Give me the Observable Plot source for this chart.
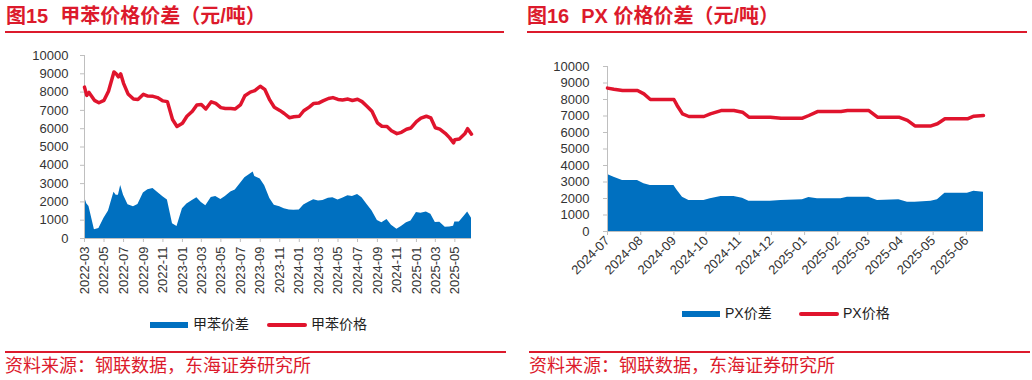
<!DOCTYPE html>
<html>
<head>
<meta charset="utf-8">
<script src="https://cdn.jsdelivr.net/npm/d3@7"></script>
<script src="https://cdn.jsdelivr.net/npm/@observablehq/plot@0.6"></script>
<style>
  body { margin: 0; background: #fff; }
  #root { position: relative; width: 1032px; height: 380px; overflow: hidden; background: #fff; }
  .title { position: absolute; top: 6px; font-family: "Liberation Sans", "Noto Sans CJK SC", sans-serif; font-weight: bold; font-size: 20px; line-height: 20px; color: #dc1a2c; white-space: pre; }
  .hr { position: absolute; height: 2px; background: #dc1a2c; }
  .src { position: absolute; top: 355px; font-family: "Noto Sans CJK SC", sans-serif; font-size: 18px; line-height: 18px; color: #dc1a2c; white-space: nowrap; }
  .chart { position: absolute; top: 40px; }
  .leg { position: absolute; font-family: "Liberation Sans", "Noto Sans CJK SC", sans-serif; font-size: 14px; line-height: 14px; color: #222; white-space: nowrap; }
  .sw { position: absolute; }
</style>
</head>
<body>
<div id="root">
  <div class="title" style="left:6px">图15<span style="margin-left:12px">甲苯价格价差（元/吨）</span></div>
  <div class="hr" style="left:5px; width:499px; top:31px"></div>
  <div class="title" style="left:527px">图16<span style="margin-left:12px">PX 价格价差（元/吨）</span></div>
  <div class="hr" style="left:527px; width:500px; top:31px"></div>

  <div id="c1" class="chart" style="left:0px"></div>
  <div id="c2" class="chart" style="left:520px"></div>

  <div id="legends"></div>

  <div class="hr" style="left:5px; width:501px; top:351px"></div>
  <div class="hr" style="left:529px; width:501px; top:351px"></div>
  <div class="src" style="left:5px">资料来源：钢联数据，东海证券研究所</div>
  <div class="src" style="left:529px">资料来源：钢联数据，东海证券研究所</div>
</div>
<script>
// ---------- Data: 图15 甲苯 ----------
const tolDates = [
  "2022-03-01","2022-03-08","2022-03-15","2022-04-01","2022-04-15","2022-05-01","2022-05-15",
  "2022-06-01","2022-06-08","2022-06-15","2022-06-22","2022-07-01","2022-07-15","2022-08-01","2022-08-15",
  "2022-09-01","2022-09-15","2022-10-01","2022-10-15","2022-11-01","2022-11-15","2022-12-01","2022-12-15",
  "2023-01-01","2023-01-15","2023-02-01","2023-02-15","2023-03-01","2023-03-15","2023-04-01","2023-04-15",
  "2023-05-01","2023-05-15","2023-06-01","2023-06-15","2023-07-01","2023-07-15","2023-08-01","2023-08-10",
  "2023-08-15","2023-09-01","2023-09-15","2023-10-01","2023-10-15","2023-11-01","2023-11-15","2023-12-01","2023-12-15",
  "2024-01-01","2024-01-15","2024-02-01","2024-02-15","2024-03-01","2024-03-15","2024-04-01","2024-04-15",
  "2024-05-01","2024-05-15","2024-06-01","2024-06-15","2024-07-01","2024-07-15","2024-08-01","2024-08-15",
  "2024-09-01","2024-09-15","2024-10-01","2024-10-15","2024-11-01","2024-11-15","2024-12-01","2024-12-15",
  "2025-01-01","2025-01-15","2025-02-01","2025-02-15","2025-03-01","2025-03-15","2025-04-01","2025-04-15",
  "2025-04-27","2025-05-01","2025-05-15","2025-06-01","2025-06-10","2025-06-22"
];
const tolPrice = [
  8270,7820,7980,7550,7420,7550,8050,
  9100,9000,8830,9000,8480,7900,7620,7600,
  7880,7780,7770,7700,7520,7480,6500,6120,
  6300,6680,6950,7300,7320,7080,7470,7380,
  7150,7100,7100,7080,7300,7800,8000,8050,
  8080,8320,8150,7560,7170,7000,6830,6600,6650,
  6680,6980,7180,7380,7400,7520,7650,7700,
  7600,7570,7620,7540,7610,7480,7200,6950,
  6320,6135,6125,5890,5730,5800,5970,6040,
  6390,6580,6680,6590,6050,5980,5750,5500,
  5220,5400,5440,5720,6000,5700
];
const tolSpread = [
  2270,1900,1750,480,550,1100,1500,
  2530,2370,2370,2900,2360,1840,1730,1860,
  2480,2670,2730,2530,2280,2100,800,650,
  1630,1880,2080,2230,1970,1790,2240,2290,
  2130,2290,2540,2650,3000,3320,3530,3640,
  3390,3250,2880,2190,1820,1740,1620,1560,1550,
  1560,1830,2000,2120,2050,2080,2200,2230,
  2110,2200,2330,2290,2400,2230,1830,1520,
  980,860,1040,720,510,650,860,960,
  1420,1380,1450,1330,870,890,620,630,
  670,900,900,1260,1450,1100
];
const tolTicks = ["2022-03","2022-05","2022-07","2022-09","2022-11","2023-01","2023-03","2023-05","2023-07","2023-09",
  "2023-11","2024-01","2024-03","2024-05","2024-07","2024-09","2024-11","2025-01","2025-03","2025-05"];

// ---------- Data: 图16 PX ----------
const pxDates = [
  "2024-07-01","2024-07-07","2024-07-15","2024-07-29","2024-08-04","2024-08-10","2024-09-01","2024-09-04",
  "2024-09-09","2024-09-15","2024-09-29","2024-10-05","2024-10-15","2024-10-27","2024-11-04","2024-11-10",
  "2024-11-30","2024-12-10","2024-12-30","2025-01-05","2025-01-13","2025-02-04","2025-02-10","2025-03-02",
  "2025-03-10","2025-03-30","2025-04-07","2025-04-14","2025-04-29","2025-05-05","2025-05-12","2025-06-02",
  "2025-06-08","2025-06-17"
];
const pxPrice = [
  8690,8620,8550,8550,8340,8000,8000,7640,
  7130,6970,6970,7130,7330,7330,7230,6930,
  6930,6870,6870,7030,7270,7270,7330,7330,
  6930,6930,6730,6400,6400,6530,6830,6830,
  6990,7030
];
const pxSpread = [
  3450,3290,3090,3090,2900,2790,2790,2500,
  2080,1880,1880,1980,2120,2120,2020,1840,
  1840,1880,1920,2060,1980,1980,2080,2080,
  1880,1920,1780,1780,1840,1920,2320,2320,
  2440,2380
];
const pxTicks = ["2024-07","2024-08","2024-09","2024-10","2024-11","2024-12","2025-01","2025-02","2025-03","2025-04","2025-05","2025-06"];

const yTicks = [0,1000,2000,3000,4000,5000,6000,7000,8000,9000,10000];
const tolNames = ["甲苯价差","甲苯价格"];
const pxNames = ["PX价差","PX价格"];

const BLUE = "#0070c0";
const RED = "#e0142d";
const GRID = "#bfbfbf";

const parseD = d3.utcParse("%Y-%m-%d");
const parseM = d3.utcParse("%Y-%m");
const fmtM = d3.utcFormat("%Y-%m");

function makeChart(o) {
  const data = o.dates.map((d, i) => ({date: parseD(d), price: o.price[i], spread: o.spread[i]}));
  return Plot.plot({
    width: o.width, height: o.height,
    marginLeft: o.ml, marginRight: o.mr, marginTop: o.mt, marginBottom: o.mb,
    style: {fontFamily: '"Liberation Sans", Arial, sans-serif', fontSize: "13px", color: "#333", background: "transparent", overflow: "visible"},
    x: {type: "utc", domain: [data[0].date, data[data.length - 1].date], axis: null},
    y: {domain: [0, 10000], axis: null},
    marks: [
      Plot.areaY(data, {x: "date", y: "spread", fill: BLUE}),
      Plot.ruleY([0], {stroke: GRID}),
      Plot.ruleX([data[0].date], {stroke: GRID}),
      Plot.axisY({ticks: yTicks, tickFormat: "d", tickSize: 4, tickPadding: o.padY, stroke: GRID, fill: "#333"}),
      Plot.axisX({ticks: o.ticks.map(parseM), tickFormat: fmtM, tickRotate: o.rotate, tickSize: 4, tickPadding: o.padX, stroke: GRID, fill: "#333"}),
      Plot.lineY(data, {x: "date", y: "price", stroke: RED, strokeWidth: 3.5, strokeLinejoin: "round"})
    ]
  });
}

document.getElementById("c1").appendChild(makeChart({
  dates: tolDates, price: tolPrice, spread: tolSpread, ticks: tolTicks,
  width: 500, height: 270, ml: 84, mr: 29, mt: 15, mb: 72, rotate: -90, padX: 4, padY: 12
}));
document.getElementById("c2").appendChild(makeChart({
  dates: pxDates, price: pxPrice, spread: pxSpread, ticks: pxTicks,
  width: 500, height: 250, ml: 87, mr: 37, mt: 26, mb: 59, rotate: -45, padX: 3, padY: 14
}));

// ---------- Legends ----------
function legend(x0, yc, names) {
  const root = document.getElementById("legends");
  const items = [
    {sx: x0, sw: 38, sh: 6, color: BLUE, tx: x0 + 43, name: names[0]},
    {sx: x0 + 117, sw: 40, sh: 3.5, color: RED, tx: x0 + 161, name: names[1], round: true}
  ];
  items.forEach(it => {
    const s = document.createElement("div");
    s.className = "sw";
    s.style.cssText = `left:${it.sx}px;top:${yc - it.sh / 2}px;width:${it.sw}px;height:${it.sh}px;background:${it.color};${it.round ? "border-radius:2px;" : ""}`;
    root.appendChild(s);
    const t = document.createElement("div");
    t.className = "leg";
    t.style.left = it.tx + "px";
    t.style.top = (yc - 8) + "px";
    t.textContent = it.name;
    root.appendChild(t);
  });
}
legend(150, 325, tolNames);
legend(682, 314, pxNames);
</script>
</body>
</html>
